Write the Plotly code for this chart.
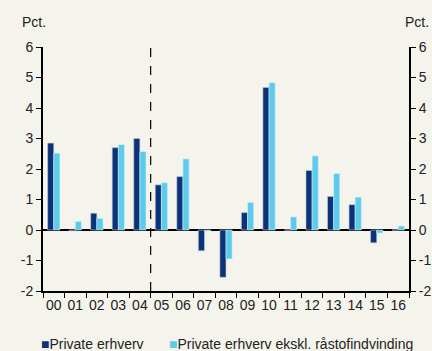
import plotly.graph_objects as go

years = ["00", "01", "02", "03", "04", "05", "06", "07", "08", "09", "10", "11", "12", "13", "14", "15", "16"]
private = [2.85, -0.03, 0.55, 2.70, 3.00, 1.48, 1.75, -0.68, -1.55, 0.57, 4.67, 0.0, 1.95, 1.10, 0.83, -0.42, 0.0]
private_ex = [2.52, 0.28, 0.38, 2.80, 2.57, 1.55, 2.33, -0.03, -0.95, 0.90, 4.83, 0.43, 2.43, 1.85, 1.08, -0.10, 0.13]
yticks = [-2, -1, 0, 1, 2, 3, 4, 5, 6]
yticktext = ["-2", "-1", "0", "1", "2", "3", "4", "5", "6"]

dark = "#0b3379"
light = "#5ccbec"
bg = "#f5f4ec"
font = dict(family="Liberation Sans, Arial, sans-serif", size=14, color="#222222")

fig = go.Figure()
fig.add_trace(go.Bar(x=years, y=private, name="Private erhverv",
                     marker=dict(color=dark, line=dict(color="#c8c8d0", width=0.6))))
fig.add_trace(go.Bar(x=years, y=private_ex, name="Private erhverv ekskl. råstofindvinding",
                     marker=dict(color=light, line=dict(color="#d8eef5", width=0.6))))
fig.add_trace(go.Scatter(x=years, y=[None] * len(years), yaxis="y2", mode="lines",
                         showlegend=False, hoverinfo="skip"))

fig.add_shape(type="line", xref="x", yref="y", x0=4.5, x1=4.5, y0=-2, y1=6,
              line=dict(color="black", width=1.2, dash="dash"))

L, R, T, B = 43, 23, 47, 60
pw = 432 - L - R
ph = 351 - T - B

def px(x):
    return (x - L) / pw

def py(y):
    return (351 - B - y) / ph

fig.update_layout(
    width=432, height=351,
    margin=dict(l=L, r=R, t=T, b=B),
    paper_bgcolor=bg, plot_bgcolor=bg,
    font=font,
    barmode="group", bargap=0.43, bargroupgap=0,
    showlegend=False,
    xaxis=dict(type="category", range=[-0.5, len(years) - 0.5], tickson="boundaries", ticks="outside",
               ticklen=5, tickwidth=1, tickcolor="black", showline=True, linecolor="black", linewidth=2,
               tickangle=0, showgrid=False, tickfont=font, automargin=False),
    yaxis=dict(range=[-2, 6], tickvals=yticks, ticktext=yticktext, ticks="outside", ticklen=5,
               tickcolor="black", showline=True, linecolor="black", linewidth=2, showgrid=False,
               zeroline=True, zerolinecolor="black", zerolinewidth=2, tickfont=font, automargin=False),
    yaxis2=dict(range=[-2, 6], tickvals=yticks, ticktext=yticktext, overlaying="y", side="right",
                ticks="outside", ticklen=5, tickcolor="black", showline=True, linecolor="black",
                linewidth=2, showgrid=False, zeroline=False, tickfont=font, automargin=False),
    annotations=[
        dict(text="Pct.", x=px(20), y=py(22), xref="paper", yref="paper",
             xanchor="left", yanchor="middle", showarrow=False, font=font),
        dict(text="Pct.", x=px(431), y=py(22), xref="paper", yref="paper",
             xanchor="right", yanchor="middle", showarrow=False, font=font),
        dict(text=f"<span style='color:{dark}'>■</span>Private erhverv", x=px(39), y=py(344),
             xref="paper", yref="paper", xanchor="left", yanchor="middle", showarrow=False, font=font),
        dict(text=f"<span style='color:{light}'>■</span>Private erhverv ekskl. råstofindvinding",
             x=px(167), y=py(344), xref="paper", yref="paper", xanchor="left", yanchor="middle",
             showarrow=False, font=font),
    ],
)
fig.write_html(
    "out.html",
    config={"displayModeBar": False},
    post_script=(
        "document.body.style.margin='0';document.body.style.padding='0';"
        f"document.body.style.background='{bg}';document.documentElement.style.background='{bg}';"
        "document.body.style.overflow='hidden';"
    ),
)
